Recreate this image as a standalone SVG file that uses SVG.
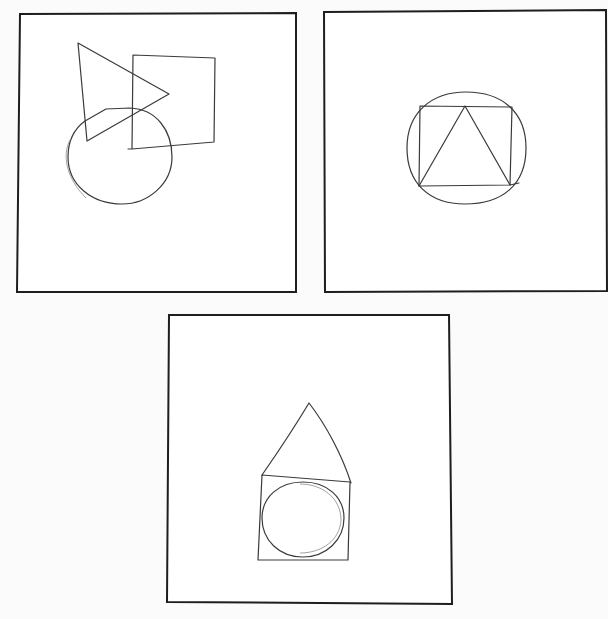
<svg xmlns="http://www.w3.org/2000/svg" width="608" height="619" viewBox="0 0 608 619">
<style>
.frame{fill:#fff;stroke:#1e1e1e;stroke-width:2}
.sk{fill:none;stroke:#3a3a3a;stroke-width:1.2;stroke-linejoin:round;stroke-linecap:round}
.lt{fill:none;stroke:#8a8a8a;stroke-width:0.8}
</style>
<rect x="0" y="0" width="608" height="619" fill="#fbfbfb"/>
<g id="panel1">
<path class="frame" d="M20,14 L296,13 L296,292 L17,292 Z"/>
<path class="sk" d="M78,43 L169,94 M78,43 L87,141 M87,141 L169,94"/>
<path class="sk" d="M133,55 L215,58 L214,142 L132,149 L133,55 M128,149 L132,149"/>
<path class="sk" d="M85,121 L106,109 L130,108 C156,109 172,130 172,157 C172,184 148,204 122,204 C92,204 68,185 68,157 C68,141 74,129 85,121 Z"/>
<path class="lt" d="M70,140 C62,155 66,178 86,198"/>
</g>
<g id="panel2">
<path class="frame" d="M324,12 L606,10 L607,291 L325,292 Z"/>
<path class="sk" d="M466,92 C502,92 526,112 526,148 C526,185 502,204 465,204 C429,204 407,183 407,148 C407,113 431,92 466,92 Z"/>
<path class="sk" d="M420,106 L512,107 L510,185 L419,186 Z M510,185 L519,183"/>
<path class="sk" d="M465,106 L419,186 M465,106 L510,185"/>
</g>
<g id="panel3">
<path class="frame" d="M169,315 L449,315 L452,604 L167,602 Z"/>
<path class="sk" d="M262,475 C278,452 294,428 309,403 C326,425 342,455 351,483"/>
<path class="sk" d="M262,475 L350,482 L348,560 L258,560 Z"/>
<path class="sk" d="M303,482 C327,482 344,497 344,518 C344,540 326,557 303,557 C279,557 262,540 262,518 C262,497 279,482 303,482 Z"/>
<path class="lt" d="M300,484 C322,484 341,498 341,520 C340,540 322,553 300,553"/>
</g>
</svg>
